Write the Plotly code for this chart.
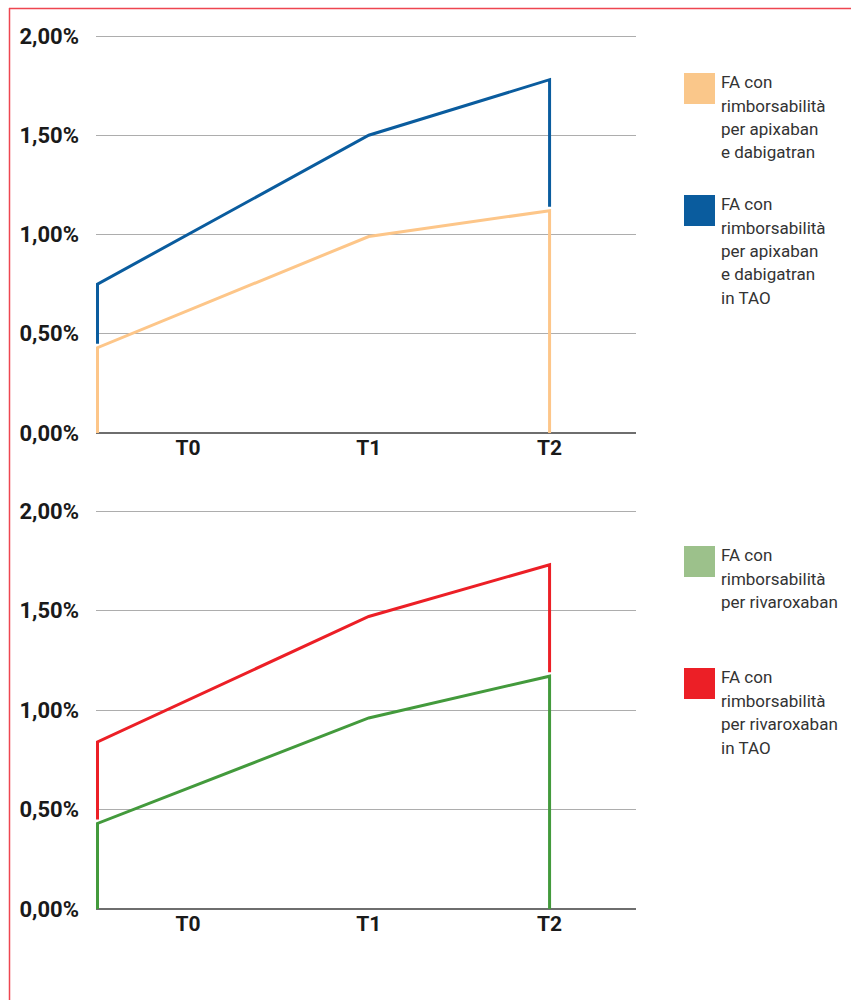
import plotly.graph_objects as go

# ---------------- data ----------------
periods = ["T0", "T1", "T2"]
period_tick_pos = [0, 1, 2]
line_x = [-0.5, 1, 2]           # x positions of the line vertices

apix_dabi = [0.43, 0.99, 1.12]          # FA con rimborsabilità per apixaban e dabigatran
apix_dabi_tao_top = [0.75, 1.50, 1.78]  # ... in TAO (stacked top)
rivaro = [0.43, 0.96, 1.17]             # FA con rimborsabilità per rivaroxaban
rivaro_tao_top = [0.84, 1.47, 1.73]     # ... in TAO (stacked top)

y_tick_vals = [0, 0.5, 1.0, 1.5, 2.0]
y_tick_text = ["0,00%", "0,50%", "1,00%", "1,50%", "2,00%"]

legend_top = [["FA con", "rimborsabilità", "per apixaban", "e dabigatran"],
              ["FA con", "rimborsabilità", "per apixaban", "e dabigatran", "in TAO"]]
legend_bottom = [["FA con", "rimborsabilità", "per rivaroxaban"],
                 ["FA con", "rimborsabilità", "per rivaroxaban", "in TAO"]]

# ---------------- style ----------------
ORANGE = "#FDC689"
ORANGE_SW = "#FAC78A"
BLUE = "#0A5C9E"
GREEN = "#439A3C"
GREEN_SW = "#9CC18B"
RED = "#EC1F26"
GAP = 0.02
FONT = "Roboto, Liberation Sans, Arial, sans-serif"
W, H = 851, 1000
Y_MAX = 2.02


def lower_path(vals):
    xs = [line_x[0]] + line_x + [line_x[-1]]
    ys = [0] + vals + [0]
    return xs, ys


def upper_path(top, base):
    xs = [line_x[0]] + line_x + [line_x[-1]]
    ys = [base[0] + GAP] + top + [base[-1] + GAP]
    return xs, ys


fig = go.Figure()
for vals, top, c_low, c_up, xa, ya in [
    (apix_dabi, apix_dabi_tao_top, ORANGE, BLUE, "x", "y"),
    (rivaro, rivaro_tao_top, GREEN, RED, "x2", "y2"),
]:
    xs, ys = lower_path(vals)
    fig.add_trace(go.Scatter(x=xs, y=ys, mode="lines", xaxis=xa, yaxis=ya,
                             line=dict(color=c_low, width=3), showlegend=False,
                             hoverinfo="skip"))
    xs, ys = upper_path(top, vals)
    fig.add_trace(go.Scatter(x=xs, y=ys, mode="lines", xaxis=xa, yaxis=ya,
                             line=dict(color=c_up, width=3), showlegend=False,
                             hoverinfo="skip"))

x_dom = [96 / W, 636 / W]
x_rng = [-0.5083, 2.478]
xcommon = dict(domain=x_dom, range=x_rng, tickvals=period_tick_pos, ticktext=periods,
               showgrid=False, zeroline=False, showline=False, ticks="",
               automargin=False,
               tickfont=dict(family=FONT, size=21, color="#1a1a1a", weight="bold"),
               fixedrange=True)
ycommon = dict(range=[0, Y_MAX], tickvals=y_tick_vals, ticktext=y_tick_text,
               showgrid=True, gridcolor="#ADADAD", gridwidth=1,
               zeroline=True, zerolinecolor="#6E6E6E", zerolinewidth=2,
               showline=False, ticks="", ticklabelstandoff=16, automargin=False,
               tickfont=dict(family=FONT, size=22, color="#1a1a1a", weight="bold"),
               fixedrange=True)


def ydomain(zero_px, two_px):
    top_px = zero_px - (zero_px - two_px) * Y_MAX / 2.0
    return [1 - zero_px / H, 1 - top_px / H]


fig.update_layout(
    template="none",
    width=W, height=H,
    margin=dict(l=0, r=0, t=0, b=0, pad=0),
    paper_bgcolor="white", plot_bgcolor="white",
    xaxis=dict(anchor="y", **xcommon),
    xaxis2=dict(anchor="y2", **xcommon),
    yaxis=dict(anchor="x", domain=ydomain(433, 36), **ycommon),
    yaxis2=dict(anchor="x2", domain=ydomain(909, 511), **ycommon),
)

# red frame lines (top and left)
fig.add_shape(type="line", xref="paper", yref="paper", x0=9 / W, x1=1, y0=1 - 8.5 / H,
              y1=1 - 8.5 / H, line=dict(color="#EE4650", width=1.5))
fig.add_shape(type="line", xref="paper", yref="paper", x0=9.5 / W, x1=9.5 / W, y0=0,
              y1=1 - 8 / H, line=dict(color="#EE4650", width=1.5))

# custom legends
LINE_STEP = 23.5
legend_items = [
    (legend_top[0], ORANGE_SW, 73),
    (legend_top[1], BLUE, 195),
    (legend_bottom[0], GREEN_SW, 546),
    (legend_bottom[1], RED, 668),
]
for lines, col, ytop in legend_items:
    fig.add_shape(type="rect", xref="paper", yref="paper",
                  x0=684 / W, x1=715 / W, y0=1 - (ytop + 31) / H, y1=1 - ytop / H,
                  fillcolor=col, line=dict(width=0))
    for k, ln in enumerate(lines):
        fig.add_annotation(xref="paper", yref="paper", x=719 / W,
                           y=1 - (ytop + 9 + k * LINE_STEP) / H,
                           xanchor="left", yanchor="middle", align="left",
                           showarrow=False, text=ln,
                           font=dict(family=FONT, size=17, color="#333333"))

fig.write_html("out.html")
